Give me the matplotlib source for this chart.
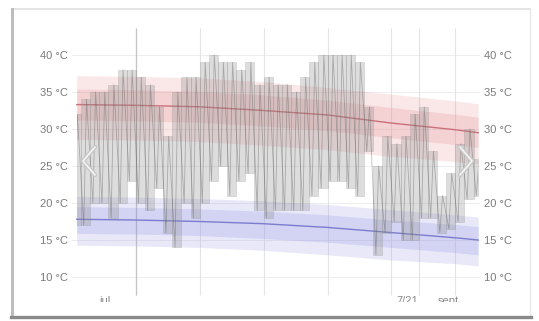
import matplotlib

matplotlib.use("Agg")
import matplotlib.pyplot as plt
import numpy as np
from matplotlib.lines import Line2D
from matplotlib.patches import Rectangle

W, H = 539, 321

# daily observed max / min (°C); day index -1 .. 43
day_index = np.arange(-1, 44)
day_max = [32, 34, 35, 35, 36, 38, 38, 37, 36, 33, 29, 35, 37, 37, 39, 40, 39, 39, 38, 39,
           36, 37, 36, 36, 35, 37, 39, 40, 40, 40, 40, 39, 33, 25, 29, 28, 29, 32, 33, 27,
           21, 24, 28, 30, 26]
day_min = [17, 17, 20, 20, 18, 20, 23, 20, 19, 22, 16, 14, 20, 18, 20, 23, 25, 21, 23, 24,
           19, 18, 19, 19, 19, 19, 21, 22, 23, 23, 22, 21, 27, 13, 16, 17.5, 15, 15, 18, 18,
           16, 16.5, 17.5, 20.5, 21]

# climate normals along the period
norm_day = [-0.47, 6, 13, 20, 27, 34, 41, 43.5]
max_p90 = [37.2, 37.1, 36.9, 36.4, 35.6, 34.7, 33.8, 33.4]
max_p75 = [35.4, 35.3, 35.1, 34.6, 33.9, 32.9, 32.0, 31.6]
max_mean = [33.3, 33.2, 33.0, 32.5, 31.9, 30.8, 29.9, 29.5]
max_p25 = [31.2, 31.1, 30.9, 30.4, 29.8, 28.8, 27.9, 27.5]
max_p10 = [28.6, 28.5, 28.3, 27.8, 27.2, 26.3, 25.6, 25.3]
min_p90 = [20.9, 20.8, 20.6, 20.3, 19.8, 19.1, 18.4, 18.1]
min_p75 = [19.5, 19.4, 19.2, 18.9, 18.4, 17.7, 17.1, 16.8]
min_mean = [17.8, 17.7, 17.5, 17.2, 16.7, 16.0, 15.3, 15.0]
min_p25 = [15.9, 15.8, 15.6, 15.2, 14.7, 14.0, 13.3, 13.0]
min_p10 = [14.3, 14.2, 14.0, 13.6, 13.0, 12.3, 11.8, 11.5]

week_lines = [6, 13, 20, 27, 34, 41]
month_line = 37
x_labels = ["jul", "7/21", "sept"]
x_label_pos = [2.6, 35.7, 40.2]
y_ticks = [10, 15, 20, 25, 30, 35, 40]

chart_start, chart_end = -0.47, 43.5

plt.rcParams["font.family"] = ["Liberation Sans", "DejaVu Sans"]
fig = plt.figure(figsize=(W / 100, H / 100), dpi=100)
fig.patch.set_facecolor("white")

ax = fig.add_axes([72 / W, 1 - 302 / H, (480 - 72) / W, (302 - 22) / H])
ax.set_xlim((72 - 81) / 9.13, (480 - 81) / 9.13)
ax.set_ylim(10 - (302 - 277) / 7.4, 40 + (55 - 22) / 7.4)
for side in ax.spines.values():
    side.set_visible(False)

# grid
for t in y_ticks:
    ax.axhline(t, color="#ededed", lw=0.7, zorder=0)
ax.vlines(week_lines + [month_line], 7.57, 43.65, color="#e4e4e4", lw=0.8, zorder=0)
ax.vlines([6], 7.57, 43.65, color="#c4c4c4", lw=0.9, zorder=0)

# normals bands
ax.fill_between(norm_day, max_p10, max_p90, color="#e88a8f", alpha=0.2, lw=0, zorder=1)
ax.fill_between(norm_day, max_p25, max_p75, color="#e07a80", alpha=0.2, lw=0, zorder=1)
ax.plot(norm_day, max_mean, color="#c9717a", lw=1.0, zorder=2)
ax.fill_between(norm_day, min_p10, min_p90, color="#9a9ae6", alpha=0.22, lw=0, zorder=1)
ax.fill_between(norm_day, min_p25, min_p75, color="#8c8ce0", alpha=0.22, lw=0, zorder=1)
ax.plot(norm_day, min_mean, color="#7d7dcf", lw=1.0, zorder=2)

# daily bars
for k, hi, lo in zip(day_index, day_max, day_min):
    left = max(k, chart_start)
    right = min(k + 1, chart_end)
    ax.add_patch(Rectangle((left, lo), right - left, hi - lo, facecolor="#909090",
                           alpha=0.3, edgecolor="#888888", lw=0.5, zorder=3))

# daily temperature trace
trace_x, trace_y = [], []
for k, hi, lo in zip(day_index, day_max, day_min):
    trace_x += [k + 0.3, k + 0.6]
    trace_y += [lo, hi]
trace, = ax.plot(trace_x, trace_y, color="#555555", lw=0.6, alpha=0.38, zorder=4)
clip = Rectangle((chart_start, 0), chart_end - chart_start, 60, transform=ax.transData)
trace.set_clip_path(clip)

ax.set_yticks(y_ticks)
ax.set_yticklabels([f"{t} °C" for t in y_ticks])
ax.set_xticks([])
ax.tick_params(axis="y", length=0, labelsize=8, labelcolor="#7a7a7a", pad=3,
               labelright=True)

for pos, txt in zip(x_label_pos, x_labels):
    ax.text(pos, 7.45, txt, ha="center", va="top", fontsize=8, color="#8a8a8a",
            clip_on=True)


# carousel chevrons and screenshot frame, in pixel coordinates
def px_line(xs, ys, **kw):
    fig.add_artist(Line2D(np.array(xs) / W, 1 - np.array(ys) / H,
                          transform=fig.transFigure, **kw))


for xs in ([95, 83, 95], [460, 472, 460]):
    px_line(xs, [147, 161, 175], color="#c8c8c8", lw=3.2, solid_capstyle="round")
    px_line(xs, [147, 161, 175], color="#f4f4f4", lw=1.2, solid_capstyle="round")

px_line([12, 530], [9, 9], color="#e0e0e0", lw=1.2)
px_line([530, 530], [9, 316], color="#e8e8e8", lw=1.0)
px_line([12, 12], [9, 317], color="#bdbdbd", lw=2.2)
px_line([11, 531], [317, 317], color="#8a8a8a", lw=2.4)

fig.savefig("out.png", dpi=100)
